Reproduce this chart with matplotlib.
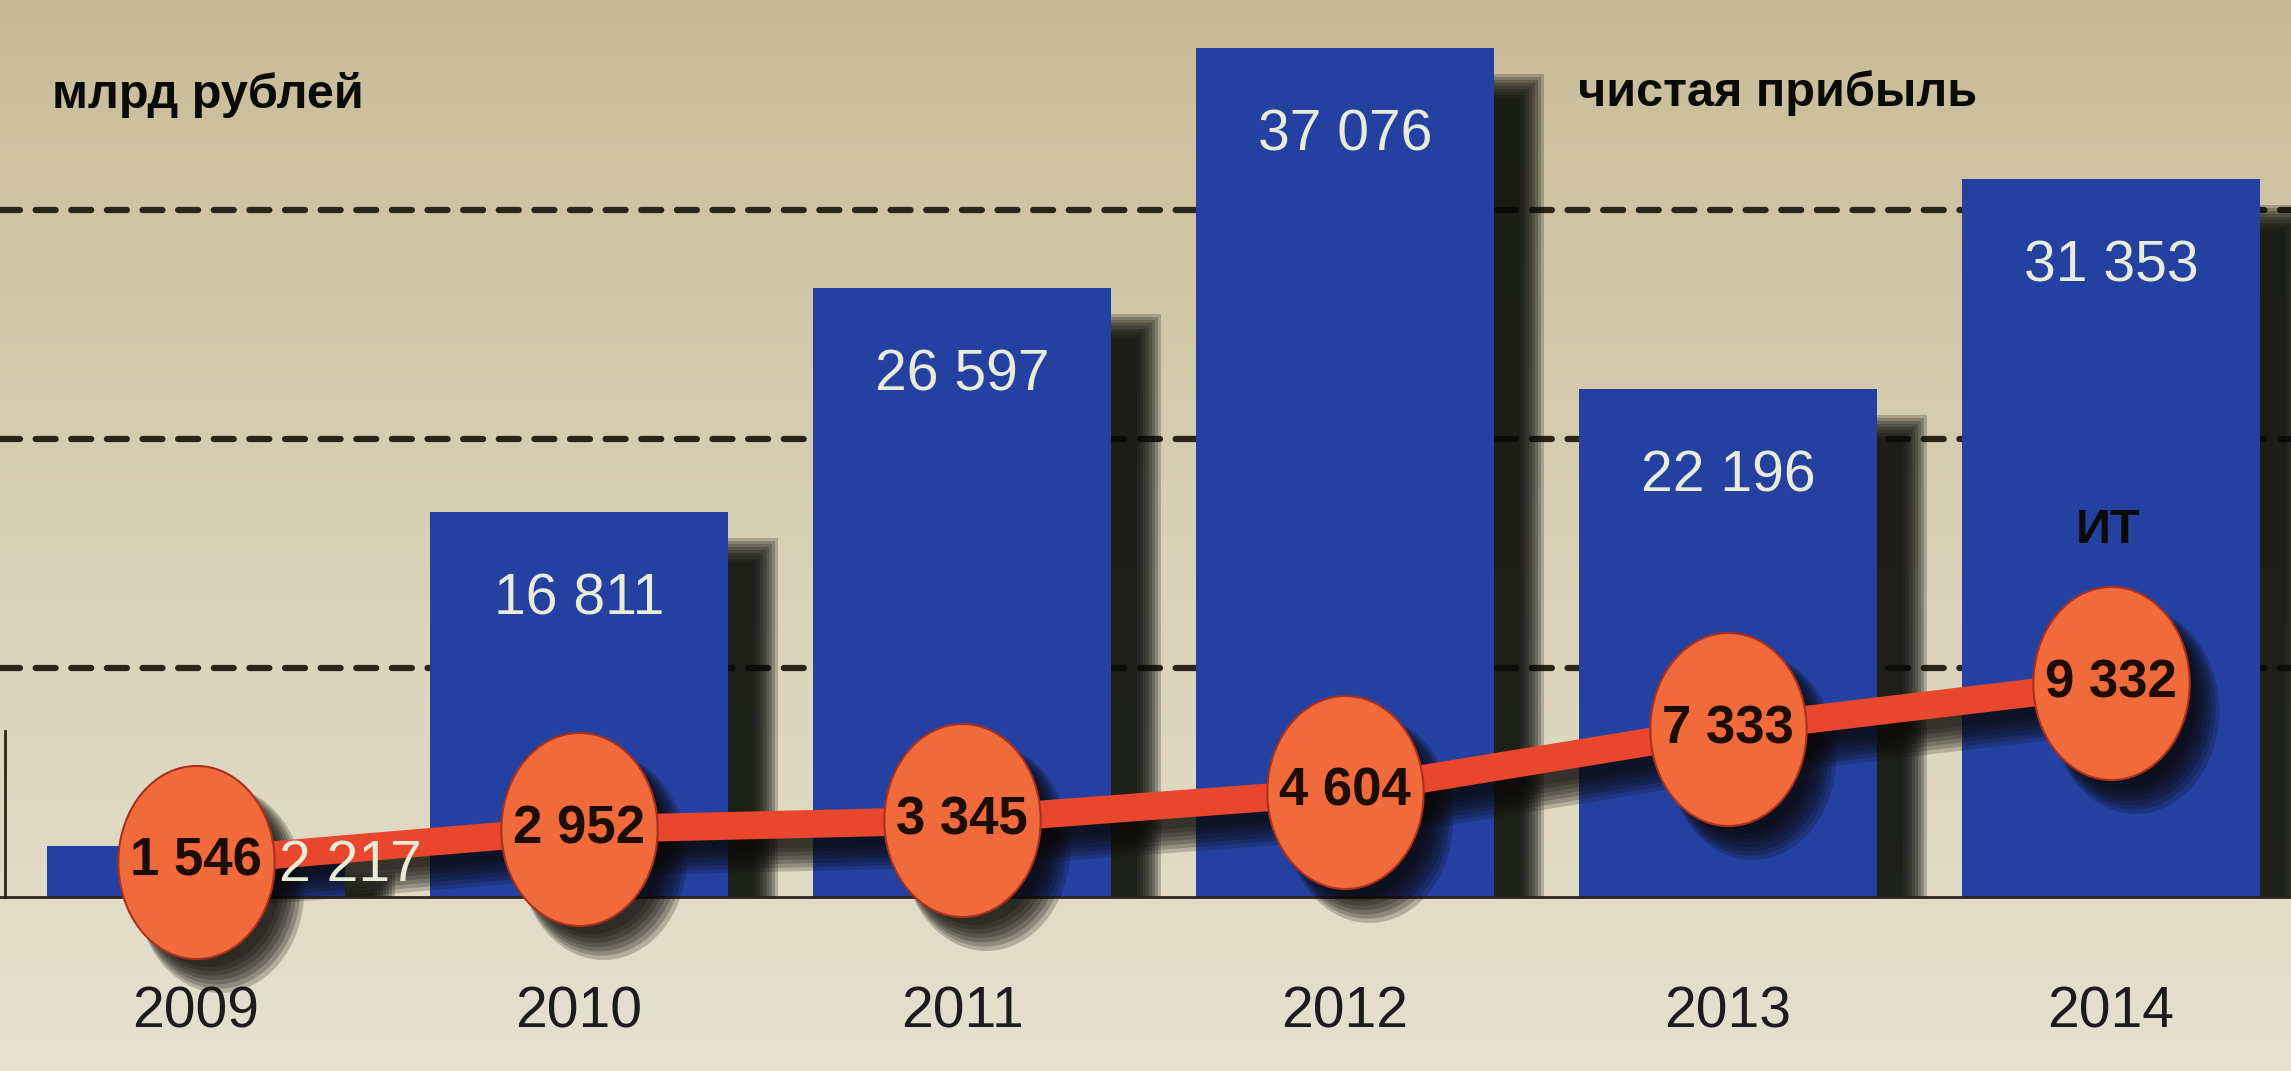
"""
Чистая прибыль и ИТ, млрд рублей, 2009-2014
"""

import numpy as np
import matplotlib
matplotlib.use('Agg')
import matplotlib.pyplot as plt
from matplotlib import font_manager
from matplotlib.path import Path
from matplotlib.transforms import ScaledTranslation
from matplotlib.colors import LinearSegmentedColormap

years = ['2009', '2010', '2011', '2012', '2013', '2014']
net_profit = [2217, 16811, 26597, 37076, 22196, 31353]   # чистая прибыль
it_values = [1546, 2952, 3345, 4604, 7333, 9332]          # ИТ
grid_levels = [10000, 20000, 30000]


def fmt(v):
    return f'{v:,}'.replace(',', ' ')


names = {f.name for f in font_manager.fontManager.ttflist}
NARROW = 'Liberation Sans Narrow' in names
num_font = 'Liberation Sans Narrow' if NARROW else 'Liberation Sans'
year_size = 46 if NARROW else 41
bar_size = 46 if NARROW else 41
plt.rcParams['font.family'] = ['Liberation Sans', 'DejaVu Sans']

W, H, DPI = 2291, 1071, 100
fig = plt.figure(figsize=(W / DPI, H / DPI), dpi=DPI)

# photo-like paper background
bg = fig.add_axes([0, 0, 1, 1], zorder=-10)
bg.axis('off')
paper = LinearSegmentedColormap.from_list('paper', ['#c9bb98', '#d9d1b6', '#e5e1cf'])
bg.imshow(np.linspace(0, 1, 256).reshape(-1, 1), aspect='auto', cmap=paper,
          extent=[0, 1, 0, 1])

ax = fig.add_axes([0, 174 / H, 1, 897 / H])
ax.patch.set_alpha(0)
x = np.arange(len(years))
ax.set_xlim(-0.512, 5.47)
ax.set_ylim(0, 39170)

# dashed grid
ax.set_yticks(grid_levels)
ax.tick_params(axis='y', length=0, labelleft=False)
ax.yaxis.grid(True, color='#2b2519', lw=4.5, linestyle=(0, (3.2, 2.5)),
              dash_capstyle='round')
ax.set_axisbelow(True)

for s in ['top', 'right']:
    ax.spines[s].set_visible(False)
ax.spines['bottom'].set_color('#2b261c')
ax.spines['bottom'].set_linewidth(2)
ax.spines['left'].set_color('#2b261c')
ax.spines['left'].set_linewidth(2)
ax.spines['left'].set_position(('data', -0.499))
ax.spines['left'].set_bounds(0, 7250)

# bar shadows (blurred, to the right)
bw = 0.78
px_x = 383.0       # pixels per category
px_y = 0.0229      # pixels per unit
vals = np.array(net_profit)
for e in np.linspace(-12, 12, 9):
    ax.bar(x + 38 / px_x, vals - (38 - e) / px_y, width=bw + 2 * e / px_x,
           color='#080c07', alpha=0.22, zorder=1.5, linewidth=0)

ax.bar(x, net_profit, width=bw, color='#2441a2', zorder=2, linewidth=0)

# bar value labels
for i, v in enumerate(net_profit):
    if i == 0:
        ax.annotate(fmt(v), (x[i], v), xytext=(111, -14), textcoords='offset points',
                    ha='center', va='center', color='#e8ecd8', fontsize=bar_size,
                    family=num_font, zorder=8)
    else:
        ax.annotate(fmt(v), (x[i], v), xytext=(0, -63), textcoords='offset points',
                    ha='center', va='center', color='#e8ecd8', fontsize=bar_size,
                    family=num_font, zorder=3)

# ellipse marker
t = np.linspace(0, 2 * np.pi, 120)
ellipse = Path(np.column_stack([0.81 * np.cos(t), np.sin(t)]), closed=True)
ms = 139

# shadow of the IT line and circles
for grow in np.linspace(-10, 10, 7):
    dx = 0.18 + grow * 0.006
    dy = -0.21 - grow * 0.006
    shift = ax.transData + ScaledTranslation(dx, dy, fig.dpi_scale_trans)
    ax.plot(x, it_values, color='#0a0805', lw=20 + grow * 0.8, alpha=0.2,
            solid_capstyle='butt', transform=shift, zorder=3.5, clip_on=False)
    ax.plot(x, it_values, ls='none', marker=ellipse, ms=ms + grow, mfc='#0a0805',
            mec='none', alpha=0.22, transform=shift, zorder=3.5, clip_on=False)

ax.plot(x, it_values, color='#e8462d', lw=20, solid_capstyle='butt', zorder=4)
ax.plot(x, it_values, ls='none', marker=ellipse, ms=ms, mfc='#f06a3c',
        mec='#a8301c', mew=1.5, zorder=5, clip_on=False)

for i, v in enumerate(it_values):
    ax.text(x[i], v, fmt(v), ha='center', va='center', fontsize=38,
            fontweight='bold', color='#1e0c06', zorder=7)

# years
ax.set_xticks(x, years)
ax.tick_params(axis='x', length=0, pad=64, labelsize=year_size,
               labelcolor='#1c1c1c')
for lab in ax.get_xticklabels():
    lab.set_family(num_font)

fig.text(52 / W, 1 - 108 / H, 'млрд рублей', ha='left', va='baseline',
         fontsize=35, fontweight='bold', color='#0a0a08')
fig.text(1578 / W, 1 - 106 / H, 'чистая прибыль', ha='left', va='baseline',
         fontsize=35, fontweight='bold', color='#0a0a08')
fig.text(2108 / W, 1 - 543 / H, 'ИТ', ha='center', va='baseline',
         fontsize=35, fontweight='bold', color='#0a0a08')

fig.savefig('out.png', dpi=DPI)
